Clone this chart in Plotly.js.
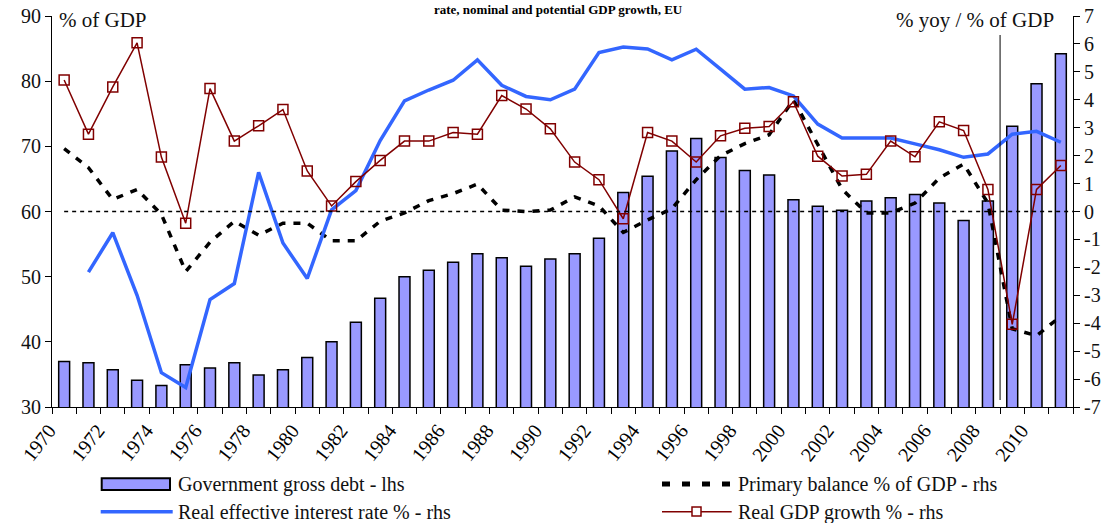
<!DOCTYPE html>
<html><head><meta charset="utf-8">
<script src="https://cdn.plot.ly/plotly-3.0.1.min.js"></script>
<style>html,body{margin:0;padding:0;background:#fff}#chart{width:1106px;height:523px}</style>
</head><body><div id="chart"></div>
<script>
const years = [1970,1971,1972,1973,1974,1975,1976,1977,1978,1979,1980,1981,1982,1983,1984,1985,1986,1987,1988,1989,1990,1991,1992,1993,1994,1995,1996,1997,1998,1999,2000,2001,2002,2003,2004,2005,2006,2007,2008,2009,2010,2011];
const debt = [37.0,36.8,35.7,34.1,33.3,36.5,36.0,36.8,34.9,35.7,37.6,40.0,43.0,46.7,50.0,51.0,52.2,53.5,52.9,51.6,52.7,53.5,55.9,62.9,65.4,69.3,71.2,68.3,66.3,65.6,61.8,60.8,60.2,61.6,62.1,62.6,61.3,58.6,61.6,73.1,79.6,84.2];
const primaryBalance = [2.25,1.57,0.43,0.79,-0.1,-2.15,-1.1,-0.35,-0.85,-0.42,-0.42,-1.05,-1.05,-0.35,-0.05,0.39,0.64,0.98,0.05,0.0,0.05,0.52,0.2,-0.75,-0.3,0.1,1.14,2.0,2.43,2.75,4.0,2.4,0.8,-0.05,-0.05,0.3,1.2,1.7,0.3,-4.2,-4.45,-3.75];
const interestRate = [null,-2.17,-0.76,-3.0,-5.77,-6.3,-3.15,-2.58,1.40,-1.13,-2.40,0.06,0.75,2.54,3.96,4.35,4.70,5.43,4.52,4.12,4.0,4.38,5.69,5.89,5.82,5.43,5.81,5.10,4.38,4.44,4.14,3.13,2.63,2.63,2.63,2.42,2.21,1.94,2.06,2.77,2.87,2.48];
const gdpGrowth = [4.71,2.77,4.46,6.04,1.95,-0.42,4.40,2.52,3.07,3.65,1.45,0.20,1.07,1.83,2.52,2.52,2.83,2.77,4.15,3.67,2.96,1.77,1.14,-0.26,2.83,2.52,1.77,2.71,2.98,3.04,3.93,1.98,1.27,1.33,2.52,1.96,3.21,2.90,0.79,-4.04,0.79,1.65];
const xTickYears = [1970,1972,1974,1976,1978,1980,1982,1984,1986,1988,1990,1992,1994,1996,1998,2000,2002,2004,2006,2008,2010];
const xTickText = xTickYears.map(String);
const y2TickVals = [-7,-6,-5,-4,-3,-2,-1,0,1,2,3,4,5,6,7];
const y2TickText = y2TickVals.map(String);
const seriesNames = ['Government gross debt - lhs','Primary balance % of GDP - rhs','Real effective interest rate % - rhs','Real GDP growth % - rhs'];

const FONT = '"Liberation Serif", "DejaVu Serif", serif';
const RED = '#800000', BLUE = '#3366FF', BAR = '#9999FF';

const traces = [
  {type:'bar', name:seriesNames[0], x:years, y:debt, width:0.45, yaxis:'y',
   marker:{color:BAR, line:{color:'#000', width:1.5}}, showlegend:false},
  {type:'scatter', mode:'lines', name:seriesNames[1], x:years, y:primaryBalance, yaxis:'y2',
   line:{color:'#000', width:3.5, dash:'7px,8px'}, showlegend:false},
  {type:'scatter', mode:'lines', name:seriesNames[2], x:years, y:interestRate, yaxis:'y2',
   line:{color:BLUE, width:3.5}, connectgaps:false, showlegend:false},
  {type:'scatter', mode:'lines+markers', name:seriesNames[3], x:years, y:gdpGrowth, yaxis:'y2',
   line:{color:RED, width:1.5},
   marker:{symbol:'square-open', size:10, color:RED, line:{color:RED, width:1.5}}, showlegend:false}
];

function px(x){return (x-52)/1021;}
function py(y){return (407-y)/391;}

const layout = {
  width:1106, height:523,
  margin:{l:52, r:33, t:16, b:116},
  paper_bgcolor:'#fff', plot_bgcolor:'#fff',
  font:{family:FONT, color:'#000', size:19},
  showlegend:false,
  xaxis:{range:[1969.5,2011.5], tickmode:'array', tickvals:xTickYears, ticktext:xTickText,
    tickangle:-52, ticks:'', showline:true, linecolor:'#000', linewidth:1,
    ticklabelshift:-15, ticklabelstandoff:3,
    showgrid:false, zeroline:false, tickfont:{family:FONT, size:20, color:'#000'},
    minor:{tick0:1969.5, dtick:1, ticks:'outside', ticklen:6, tickcolor:'#000', showgrid:false}},
  yaxis:{range:[30,90], dtick:10, ticks:'outside', ticklen:6, tickcolor:'#000',
    showline:true, linecolor:'#000', linewidth:1, showgrid:false, zeroline:false,
    tickfont:{family:FONT, size:20, color:'#111'}},
  yaxis2:{range:[-7,7], overlaying:'y', side:'right', tickmode:'array', tickvals:y2TickVals, ticktext:y2TickText,
    ticks:'outside', ticklen:6, tickcolor:'#000', showline:true, linecolor:'#000', linewidth:1,
    showgrid:false, zeroline:false, tickfont:{family:FONT, size:20, color:'#111'}},
  shapes:[
    {type:'line', xref:'x', yref:'y2', x0:1970, x1:2011.5, y0:0, y1:0, layer:'above',
     line:{color:'#000', width:1.5, dash:'4px,4px'}},
    {type:'line', xref:'x', yref:'paper', x0:2008.5, x1:2008.5, y0:py(400), y1:py(35),
     line:{color:'#000', width:1}},
    {type:'rect', xref:'paper', yref:'paper', x0:px(101.7), x1:px(170), y0:py(478.3), y1:py(490),
     fillcolor:BAR, line:{color:'#000', width:2}},
    {type:'line', xref:'paper', yref:'paper', x0:px(662), x1:px(732), y0:py(484), y1:py(484),
     line:{color:'#000', width:5, dash:'8px,12px'}},
    {type:'line', xref:'paper', yref:'paper', x0:px(100.7), x1:px(172.7), y0:py(511.7), y1:py(511.7),
     line:{color:BLUE, width:3.5}},
    {type:'line', xref:'paper', yref:'paper', x0:px(662), x1:px(731.7), y0:py(511.7), y1:py(511.7),
     line:{color:RED, width:1.5}},
    {type:'rect', xref:'paper', yref:'paper', x0:px(692), x1:px(701), y0:py(507), y1:py(516),
     fillcolor:'#fff', line:{color:RED, width:1.5}}
  ],
  annotations:[
    {text:'<b>rate, nominal and potential GDP growth, EU</b>', xref:'paper', yref:'paper',
     x:px(558), y:py(0), xanchor:'center', yanchor:'top', showarrow:false,
     font:{family:FONT, size:13, color:'#000'}},
    {text:'% of GDP', xref:'paper', yref:'paper', x:px(57), y:py(6), xanchor:'left', yanchor:'top',
     showarrow:false, font:{family:FONT, size:21, color:'#111'}},
    {text:'% yoy / % of GDP', xref:'paper', yref:'paper', x:px(1056), y:py(6), xanchor:'right', yanchor:'top',
     showarrow:false, font:{family:FONT, size:21, color:'#111'}},
    {text:seriesNames[0], xref:'paper', yref:'paper', x:px(176), y:py(484), xanchor:'left', yanchor:'middle',
     showarrow:false, font:{family:FONT, size:20, color:'#111'}},
    {text:seriesNames[1], xref:'paper', yref:'paper', x:px(736), y:py(484), xanchor:'left', yanchor:'middle',
     showarrow:false, font:{family:FONT, size:20, color:'#111'}},
    {text:seriesNames[2], xref:'paper', yref:'paper', x:px(176), y:py(512), xanchor:'left', yanchor:'middle',
     showarrow:false, font:{family:FONT, size:20, color:'#111'}},
    {text:seriesNames[3], xref:'paper', yref:'paper', x:px(736), y:py(512), xanchor:'left', yanchor:'middle',
     showarrow:false, font:{family:FONT, size:20, color:'#111'}}
  ]
};

Plotly.newPlot('chart', traces, layout, {displayModeBar:false, staticPlot:true});
</script>
</body></html>
